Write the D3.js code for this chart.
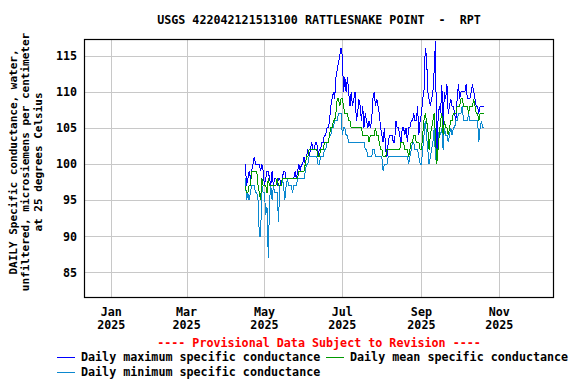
<!DOCTYPE html>
<html lang="en">
    <head>
        <meta charset="utf-8">
        <title>USGS 422042121513100 RATTLESNAKE POINT - RPT</title>
        <style type="text/css">
            body { margin: 0; background: #fff; }
            text { font-family: "DejaVu Sans Mono", monospace; font-weight: bold; font-size: 11.7px; white-space: pre; }
        </style>
    </head>
    <body>

<script src="https://d3js.org/d3.v7.min.js"></script>

<script>

    var w = 576;
    var h = 384;

    // daily values, one per day starting 2025-04-16
    var startDate = "2025-04-16";

    var maxVals = [100,97,98,99,98,99,100,101,100,100,
        100,100,99,100,99,97,98,99,99,98,
        97,99,97,98,98,97,98,98,97,98,
        99,99,98,98,98,98,98,98,98,99,
        98,99,100,99,100,100,101,100,101,102,
        101,102,103,102,102,103,103,101,102,102,
        103,103,104,104,105,105,106,108,109,110,
        109,112,113,114,115,116,115,110,112,110,
        112,110,108,110,108,109,110,106,107,109,
        108,106,108,105,107,106,105,106,105,106,
        109,110,108,109,108,107,105,104,103,105,
        102,101,103,104,104,104,103,103,106,105,
        105,104,103,105,105,104,105,103,105,105,
        106,106,107,106,106,108,104,106,107,109,
        110,116,115,110,109,108,109,110,113,117,
        101,106,108,107,111,105,110,109,111,107,
        108,109,108,108,107,106,109,111,109,110,
        110,110,110,111,109,109,109,110,111,110,
        109,108,108,107,108,108,108,108];

    var meanVals = [97,96,96,97,97,99,99,99,99,99,
        97,96,95,98,97,97,97,96,98,97,
        97,97,97,97,97,98,97,97,97,98,
        98,98,98,98,98,98,98,98,98,98,
        98,98,99,99,99,99,99,100,101,101,
        102,102,102,102,102,102,102,101,101,102,
        102,102,103,103,103,103,104,105,105,106,
        106,107,109,109,108,109,109,108,107,107,
        107,106,106,105,105,105,105,105,105,105,
        105,105,104,104,104,104,104,103,104,104,
        104,104,105,104,104,103,102,102,101,101,
        101,102,102,102,102,102,102,102,102,102,
        102,102,103,103,103,102,102,102,101,102,
        103,103,104,104,103,103,103,102,102,104,
        106,107,106,105,102,104,105,106,107,104,
        100,102,104,106,107,104,106,105,105,104,
        105,106,106,107,107,107,108,108,108,109,
        109,108,108,108,108,107,108,108,108,109,
        108,107,107,106,107,107,107,107];

    var minVals = [98,95,96,95,96,97,97,97,96,96,
        95,90,90,97,96,96,93,94,87,95,
        97,95,97,96,96,96,92,97,97,98,
        97,95,97,98,97,97,97,96,97,97,
        97,98,98,98,98,98,98,99,100,100,
        101,101,101,101,101,101,101,100,100,101,
        101,101,102,102,103,103,104,104,105,105,
        106,106,106,107,107,107,104,105,105,104,
        104,103,103,103,103,103,103,103,103,103,
        103,103,103,103,102,102,101,101,101,101,
        102,102,101,101,101,101,101,101,99,100,
        100,100,101,101,101,101,101,101,101,101,
        101,101,101,101,101,101,101,101,100,101,
        102,103,103,102,102,102,101,100,100,102,
        104,106,104,102,100,101,102,103,105,101,
        100,102,105,104,105,102,105,104,104,103,
        104,105,104,105,105,106,106,107,107,107,
        108,106,106,106,106,107,106,106,106,106,
        106,106,106,103,105,106,105,105];

    var yTicks = [85, 90, 95, 100, 105, 110, 115];
    var xTicks = ["2025-01-01", "2025-03-01", "2025-05-01", "2025-07-01", "2025-09-01", "2025-11-01"];
    var xTickMonths = ["Jan", "Mar", "May", "Jul", "Sep", "Nov"];
    var xTickYears = ["2025", "2025", "2025", "2025", "2025", "2025"];

    var series = [
        {name: "Daily maximum specific conductance", values: maxVals, color: "#0000ff"},
        {name: "Daily minimum specific conductance", values: minVals, color: "#0b88cf"},
        {name: "Daily mean specific conductance", values: meanVals, color: "#009900"}
    ];

    var parse = d3.utcParse("%Y-%m-%d");
    var start = parse(startDate);
    var dates = maxVals.map(function(d, i){ return d3.utcDay.offset(start, i); });

    var plotLeft = 84, plotRight = 554, plotTop = 39, plotBottom = 297;

    var x = d3.scaleUtc()
        .domain([new Date(Date.UTC(2024, 11, 11)), new Date(Date.UTC(2025, 11, 13, 12))])
        .range([plotLeft + 0.5, plotRight - 0.5]);

    var y = d3.scaleLinear()
        .domain([81.6, 117.3])
        .range([plotBottom, plotTop]);

    var svg = d3.select("body")
            .append("svg")
            .attr("width", w)
            .attr("height", h);

    // title
    svg.append("text")
        .attr("x", (plotLeft + plotRight) / 2)
        .attr("y", 24)
        .attr("text-anchor", "middle")
        .text("USGS 422042121513100 RATTLESNAKE POINT  -  RPT");

    // grid
    svg.append("g")
        .selectAll("line")
        .data(yTicks)
        .enter()
        .append("line")
        .attr("x1", plotLeft).attr("x2", plotRight)
        .attr("y1", function(d){ return Math.round(y(d)) + 0.5; })
        .attr("y2", function(d){ return Math.round(y(d)) + 0.5; })
        .attr("stroke", "#c8c8c8");

    svg.append("g")
        .selectAll("line")
        .data(xTicks)
        .enter()
        .append("line")
        .attr("x1", function(d){ return Math.round(x(parse(d))) + 0.5; })
        .attr("x2", function(d){ return Math.round(x(parse(d))) + 0.5; })
        .attr("y1", plotTop).attr("y2", plotBottom)
        .attr("stroke", "#c8c8c8");

    // y tick labels
    svg.append("g")
        .selectAll("text")
        .data(yTicks)
        .enter()
        .append("text")
        .attr("x", 77)
        .attr("y", function(d){ return y(d); })
        .attr("dy", "0.36em")
        .attr("text-anchor", "end")
        .text(function(d){ return d; });

    // x tick labels
    svg.append("g")
        .selectAll("text")
        .data(xTicks)
        .enter()
        .append("text")
        .attr("x", function(d){ return x(parse(d)); })
        .attr("y", 316)
        .attr("text-anchor", "middle")
        .text(function(d, i){ return xTickMonths[i]; });

    svg.append("g")
        .selectAll("text")
        .data(xTicks)
        .enter()
        .append("text")
        .attr("x", function(d){ return x(parse(d)); })
        .attr("y", 329)
        .attr("text-anchor", "middle")
        .text(function(d, i){ return xTickYears[i]; });

    // data lines
    var line = d3.line()
        .x(function(d, i){ return x(dates[i]); })
        .y(function(d){ return y(d); });

    svg.append("g")
        .selectAll("path")
        .data(series)
        .enter()
        .append("path")
        .attr("d", function(s){ return line(s.values); })
        .attr("fill", "none")
        .attr("stroke", function(s){ return s.color; })
        .attr("stroke-width", 1)
        .attr("shape-rendering", "crispEdges");

    // frame
    svg.append("rect")
        .attr("x", plotLeft + 0.5)
        .attr("y", plotTop + 0.5)
        .attr("width", plotRight - plotLeft - 1)
        .attr("height", plotBottom - plotTop)
        .attr("fill", "none")
        .attr("stroke", "#000")
        .attr("stroke-width", 1.2);

    // y axis title
    var yTitle = ["DAILY Specific conductance, water,",
        "unfiltered, microsiemens per centimeter",
        "at 25 degrees Celsius"];
    var yTitleX = [13, 25.5, 38];

    svg.append("g")
        .selectAll("text")
        .data(yTitle)
        .enter()
        .append("text")
        .attr("transform", function(d, i){ return "translate(" + yTitleX[i] + ",162) rotate(-90)"; })
        .attr("dy", "0.36em")
        .attr("text-anchor", "middle")
        .style("font-size", "11px")
        .text(function(d){ return d; });

    // provisional note
    svg.append("text")
        .attr("x", (plotLeft + plotRight) / 2)
        .attr("y", 347)
        .attr("text-anchor", "middle")
        .attr("fill", "#ff0000")
        .text("---- Provisional Data Subject to Revision ----");

    // legend
    var legendPos = [
        {s: series[0], x: 57, y: 357},
        {s: series[2], x: 326, y: 357},
        {s: series[1], x: 57, y: 372}
    ];

    var leg = svg.append("g")
        .selectAll("g")
        .data(legendPos)
        .enter()
        .append("g")
        .attr("transform", function(d){ return "translate(" + d.x + "," + d.y + ")"; });

    leg.append("rect")
        .attr("x", 0)
        .attr("y", 0)
        .attr("width", 18)
        .attr("height", 1)
        .attr("fill", function(d){ return d.s.color; });

    leg.append("text")
        .attr("x", 24)
        .attr("dy", "0.36em")
        .text(function(d){ return d.s.name; });

</script>

    </body>
</html>
